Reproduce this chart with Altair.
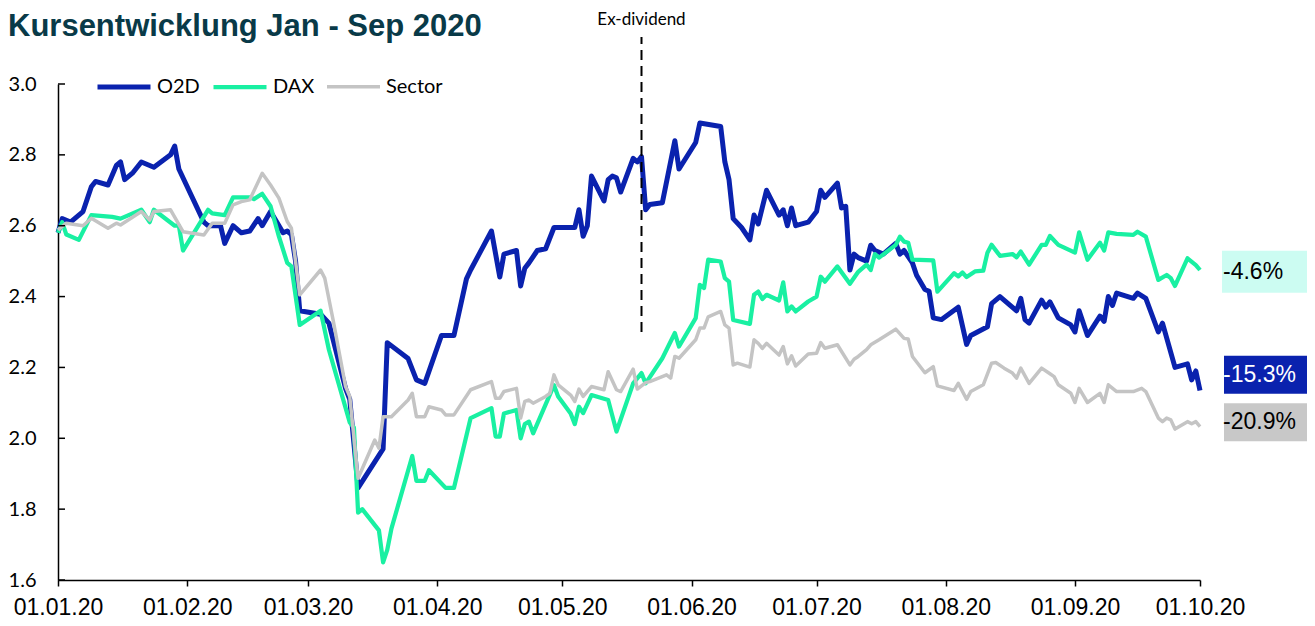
import altair as alt
import pandas as pd

title_text = "Kursentwicklung Jan - Sep 2020"
series_names = ["O2D", "DAX", "Sector"]
series_colors = ["#0A22AE", "#19F0A2", "#C4C4C4"]
series_widths = [5, 3.5, 3.5]

# days since 01.01.2020 and values
o2d_days = [0, 1, 3, 6, 8, 9, 12, 14, 15, 16, 18, 20, 23, 27, 28, 29, 35, 36, 39, 40,
            42, 44, 46, 48, 49, 51, 54, 55, 56, 57, 58, 63, 65, 69, 70, 72, 78, 79, 84, 86,
            88, 92, 95, 98, 99, 104, 106, 107, 110, 111, 112, 113, 115, 117, 119, 124, 125, 126, 127, 128,
            131, 132, 133, 134, 135, 138, 139, 140, 141, 142, 145, 148, 149, 153, 154, 159, 160, 161, 162, 164,
            166, 167, 168, 170, 173, 174, 175, 176, 177, 180, 182, 183, 184, 187, 188, 189, 190, 191, 192, 194,
            195, 196, 198, 201, 202, 203, 205, 206, 208, 209, 210, 212, 216, 218, 219, 223, 224, 226, 230, 231,
            232, 233, 236, 237, 238, 240, 243, 244, 245, 247, 250, 251, 252, 253, 254, 258, 259, 261, 264, 265,
            268, 271, 272, 273, 274]
o2d_values = [2.58, 2.62, 2.61, 2.64, 2.71, 2.725, 2.715, 2.77, 2.78, 2.73, 2.75, 2.78, 2.765, 2.80, 2.825, 2.76, 2.61, 2.60, 2.60, 2.55,
              2.60, 2.58, 2.585, 2.62, 2.60, 2.64, 2.58, 2.585, 2.575, 2.50, 2.36, 2.35, 2.325, 2.14, 2.11, 1.86, 1.97, 2.27, 2.225, 2.165,
              2.155, 2.29, 2.29, 2.45, 2.475, 2.585, 2.455, 2.52, 2.53, 2.43, 2.48, 2.495, 2.53, 2.535, 2.595, 2.595, 2.645, 2.57, 2.60, 2.74,
              2.67, 2.73, 2.74, 2.735, 2.695, 2.79, 2.78, 2.795, 2.645, 2.66, 2.665, 2.84, 2.76, 2.835, 2.89, 2.88, 2.78, 2.73, 2.62, 2.595,
              2.56, 2.63, 2.605, 2.70, 2.63, 2.645, 2.60, 2.65, 2.60, 2.61, 2.64, 2.70, 2.68, 2.72, 2.65, 2.655, 2.475, 2.52, 2.51, 2.50,
              2.545, 2.53, 2.52, 2.55, 2.52, 2.53, 2.495, 2.46, 2.42, 2.415, 2.34, 2.335, 2.37, 2.265, 2.29, 2.315, 2.38, 2.40, 2.36, 2.395,
              2.335, 2.325, 2.39, 2.37, 2.385, 2.34, 2.32, 2.30, 2.36, 2.29, 2.345, 2.33, 2.40, 2.375, 2.41, 2.395, 2.41, 2.395, 2.30, 2.325,
              2.20, 2.21, 2.165, 2.19, 2.135]

dax_days = [0, 1, 2, 5, 8, 13, 15, 20, 22, 23, 28, 29, 30, 36, 37, 40, 42, 46, 47, 49,
            51, 53, 55, 56, 58, 63, 65, 70, 71, 72, 73, 77, 78, 79, 80, 85, 86, 88, 89, 93,
            95, 99, 104, 105, 106, 107, 110, 111, 112, 113, 114, 119, 120, 123, 124, 125, 126, 128, 132, 134,
            138, 140, 141, 145, 148, 149, 153, 154, 155, 156, 159, 160, 161, 162, 166, 167, 168, 169, 170, 173,
            174, 175, 176, 177, 180, 182, 183, 184, 187, 190, 192, 194, 195, 196, 197, 201, 202, 203, 204, 205,
            210, 211, 215, 216, 217, 218, 220, 222, 223, 224, 226, 229, 230, 231, 233, 236, 237, 238, 240, 244,
            245, 247, 250, 251, 252, 254, 258, 259, 261, 264, 266, 267, 268, 271, 273, 274]
dax_values = [2.58, 2.61, 2.575, 2.56, 2.63, 2.625, 2.62, 2.645, 2.61, 2.645, 2.60, 2.60, 2.53, 2.645, 2.635, 2.63, 2.68, 2.68, 2.675, 2.69,
              2.655, 2.57, 2.495, 2.485, 2.32, 2.36, 2.25, 2.045, 2.03, 1.79, 1.80, 1.74, 1.65, 1.685, 1.745, 1.95, 1.88, 1.88, 1.91, 1.86,
              1.86, 2.057, 2.085, 2.005, 2.005, 2.07, 2.08, 2.00, 2.04, 2.047, 2.014, 2.15, 2.118, 2.07, 2.04, 2.089, 2.071, 2.122, 2.108, 2.019,
              2.155, 2.184, 2.155, 2.226, 2.297, 2.259, 2.339, 2.433, 2.424, 2.504, 2.499, 2.452, 2.442, 2.334, 2.323, 2.405, 2.414, 2.393, 2.405, 2.389,
              2.44, 2.358, 2.372, 2.358, 2.386, 2.40, 2.456, 2.442, 2.485, 2.436, 2.47, 2.49, 2.475, 2.52, 2.51, 2.546, 2.569, 2.555, 2.552, 2.504,
              2.502, 2.414, 2.466, 2.457, 2.468, 2.455, 2.471, 2.473, 2.524, 2.546, 2.515, 2.52, 2.511, 2.527, 2.49, 2.546, 2.546, 2.571, 2.546, 2.524,
              2.581, 2.504, 2.552, 2.53, 2.581, 2.577, 2.574, 2.583, 2.569, 2.447, 2.461, 2.452, 2.43, 2.508, 2.489, 2.475]

sector_days = [0, 2, 6, 8, 12, 14, 15, 20, 22, 23, 27, 30, 35, 37, 40, 42, 44, 46, 49, 51,
               53, 55, 56, 58, 63, 64, 66, 69, 70, 72, 76, 77, 78, 80, 84, 85, 86, 88, 89, 92,
               93, 95, 99, 104, 105, 106, 107, 110, 111, 112, 113, 114, 117, 118, 119, 120, 123, 124, 125, 126,
               128, 131, 132, 134, 135, 138, 139, 141, 142, 146, 147, 148, 149, 153, 154, 155, 156, 159, 160, 161,
               162, 163, 166, 167, 168, 169, 170, 173, 174, 175, 176, 177, 180, 182, 183, 184, 187, 190, 191, 192,
               194, 195, 197, 201, 203, 204, 205, 208, 210, 211, 215, 216, 218, 219, 222, 224, 225, 227, 229, 230,
               231, 233, 236, 238, 239, 240, 243, 244, 245, 247, 250, 251, 252, 254, 258, 260, 261, 264, 265, 266,
               267, 268, 271, 272, 273, 274]
sector_values = [2.588, 2.607, 2.60, 2.621, 2.593, 2.607, 2.602, 2.64, 2.616, 2.64, 2.645, 2.583, 2.574, 2.607, 2.607, 2.659, 2.668, 2.673, 2.748, 2.715,
                 2.678, 2.612, 2.593, 2.405, 2.475, 2.452, 2.334, 2.146, 2.118, 1.887, 1.995, 1.972, 2.061, 2.061, 2.108, 2.127, 2.061, 2.061, 2.089, 2.08,
                 2.066, 2.066, 2.137, 2.16, 2.113, 2.113, 2.132, 2.141, 2.057, 2.104, 2.108, 2.099, 2.118, 2.127, 2.179, 2.151, 2.122, 2.104, 2.139, 2.118,
                 2.146, 2.137, 2.188, 2.137, 2.132, 2.195, 2.139, 2.157, 2.16, 2.179, 2.17, 2.231, 2.226, 2.278, 2.311, 2.311, 2.343, 2.358, 2.32, 2.311,
                 2.207, 2.212, 2.201, 2.278, 2.268, 2.254, 2.268, 2.235, 2.259, 2.21, 2.233, 2.204, 2.238, 2.24, 2.27, 2.254, 2.264, 2.207, 2.223, 2.231,
                 2.25, 2.264, 2.278, 2.308, 2.282, 2.28, 2.231, 2.185, 2.202, 2.148, 2.135, 2.155, 2.11, 2.132, 2.151, 2.212, 2.214, 2.198, 2.184, 2.17,
                 2.198, 2.155, 2.198, 2.182, 2.174, 2.151, 2.127, 2.101, 2.141, 2.101, 2.127, 2.101, 2.151, 2.132, 2.132, 2.141, 2.132, 2.057, 2.047, 2.057,
                 2.052, 2.026, 2.047, 2.041, 2.047, 2.033]

y_ticks = [1.6, 1.8, 2.0, 2.2, 2.4, 2.6, 2.8, 3.0]
month_ticks = [1, 2, 3, 4, 5, 6, 7, 8, 9, 10]

ex_div_date = "2020-05-20"
ex_div_text = "Ex-dividend"
ex_div_from = [2.30]
ex_div_to = [3.133]

end_labels = ["-4.6%", "-15.3%", "-20.9%"]
end_label_pos = [2.47, 2.179, 2.045]
end_label_date = "2020-10-01"
end_box_colors = ["#CCFCF2", "#0A22AE", "#C8C8C8"]

start = pd.Timestamp("2020-01-01")


def frame(name, days, values):
    assert len(days) == len(values), name
    return pd.DataFrame({
        "date": [(start + pd.Timedelta(days=d)).strftime("%Y-%m-%d") for d in days],
        "value": values,
        "series": name,
        "idx": list(range(len(days))),
    })


df = pd.concat([
    frame("O2D", o2d_days, o2d_values),
    frame("DAX", dax_days, dax_values),
    frame("Sector", sector_days, sector_values),
], ignore_index=True)

xscale = alt.Scale(type="utc", domain=[alt.DateTime(year=2020, month=1, date=1, utc=True),
                                       alt.DateTime(year=2020, month=10, date=1, utc=True)])
yscale = alt.Scale(domain=[1.6, 3.0], nice=False, zero=False)

x_axis = alt.Axis(values=[alt.DateTime(year=2020, month=m, date=1, utc=True) for m in month_ticks],
                  format="%d.%m.%y", tickSize=6, labelFont="Liberation Sans", labelFontSize=23,
                  labelPadding=10, labelOverlap=False, labelFlush=False, title=None)
y_axis = alt.Axis(values=y_ticks, format=".1f", ticks=False, labelFont="Lato", labelFontSize=20,
                  labelPadding=22, title=None)

legend = alt.Legend(title=None, orient="none", legendX=37, legendY=-26, direction="horizontal",
                    symbolType="stroke", symbolSize=2809, labelFont="Lato", labelFontSize=20,
                    labelColor="black", labelOffset=4, columnPadding=5, padding=0)

color_enc = alt.Color("series:N", scale=alt.Scale(domain=series_names, range=series_colors), legend=legend)
width_enc = alt.StrokeWidth("series:N", scale=alt.Scale(domain=series_names, range=series_widths), legend=legend)

base = alt.Chart(df)
line_layers = []
for s in series_names:
    line_layers.append(
        base.transform_filter(alt.datum.series == s).mark_line(strokeJoin="round").encode(
            x=alt.X("date:T", scale=xscale, axis=x_axis),
            y=alt.Y("value:Q", scale=yscale, axis=y_axis),
            color=color_enc,
            strokeWidth=width_enc,
            order="idx:Q",
        )
    )

ticks = alt.Chart(pd.DataFrame({"v": y_ticks})).mark_rule(color="black", strokeWidth=1.5).encode(
    y=alt.Y("v:Q", scale=yscale), x=alt.value(0), x2=alt.value(7))

exdf = pd.DataFrame({"date": [ex_div_date], "y1": ex_div_from, "y2": ex_div_to, "t": [ex_div_text]})
ex_rule = alt.Chart(exdf).mark_rule(color="black", strokeWidth=2, strokeDash=[10, 6]).encode(
    x=alt.X("date:T", scale=xscale), y=alt.Y("y1:Q", scale=yscale), y2="y2")
ex_text = alt.Chart(exdf).mark_text(font="Lato", fontSize=17, color="black", align="center",
                                    baseline="alphabetic").encode(
    x=alt.X("date:T", scale=xscale), y=alt.value(-59), text="t:N")

title = alt.Chart(pd.DataFrame({"t": [title_text]})).mark_text(
    font="Liberation Sans", fontWeight="bold", fontSize=31, color="#093A48", align="left",
    baseline="alphabetic").encode(x=alt.value(-50), y=alt.value(-48), text="t:N")

lab = pd.DataFrame({"label": end_labels, "pos": end_label_pos, "date": end_label_date})
box_fill = alt.Fill("label:N", scale=alt.Scale(domain=end_labels, range=end_box_colors), legend=None)
box_top = alt.Chart(lab).transform_filter(alt.datum.label == end_labels[0]).mark_rect(
    xOffset=22, x2Offset=120, yOffset=-21, y2Offset=21).encode(
    x=alt.X("date:T", scale=xscale), x2="date", y=alt.Y("pos:Q", scale=yscale), y2="pos", fill=box_fill)
box_rest = alt.Chart(lab).transform_filter(alt.datum.label != end_labels[0]).mark_rect(
    xOffset=24, x2Offset=107, yOffset=-19, y2Offset=19).encode(
    x=alt.X("date:T", scale=xscale), x2="date", y=alt.Y("pos:Q", scale=yscale), y2="pos", fill=box_fill)
lab_text = alt.Chart(lab).mark_text(font="Liberation Sans", fontSize=23, align="left", baseline="middle",
                                    dx=23).encode(
    x=alt.X("date:T", scale=xscale), y=alt.Y("pos:Q", scale=yscale), text="label:N",
    fill=alt.condition(alt.datum.label == end_labels[1], alt.value("white"), alt.value("black")))

chart = alt.layer(*line_layers, ticks, ex_rule, ex_text, title, box_top, box_rest, lab_text).properties(
    width=1142, height=496, autosize=alt.AutoSizeParams(type="none"),
    padding={"left": 50, "top": 76, "right": 107, "bottom": 38},
).configure_view(stroke=None).configure_axis(
    grid=False, domainColor="black", domainWidth=1.5, tickColor="black", tickWidth=1.5, labelColor="black")

chart.save("out.html", embed_options={"renderer": "svg", "actions": False})
